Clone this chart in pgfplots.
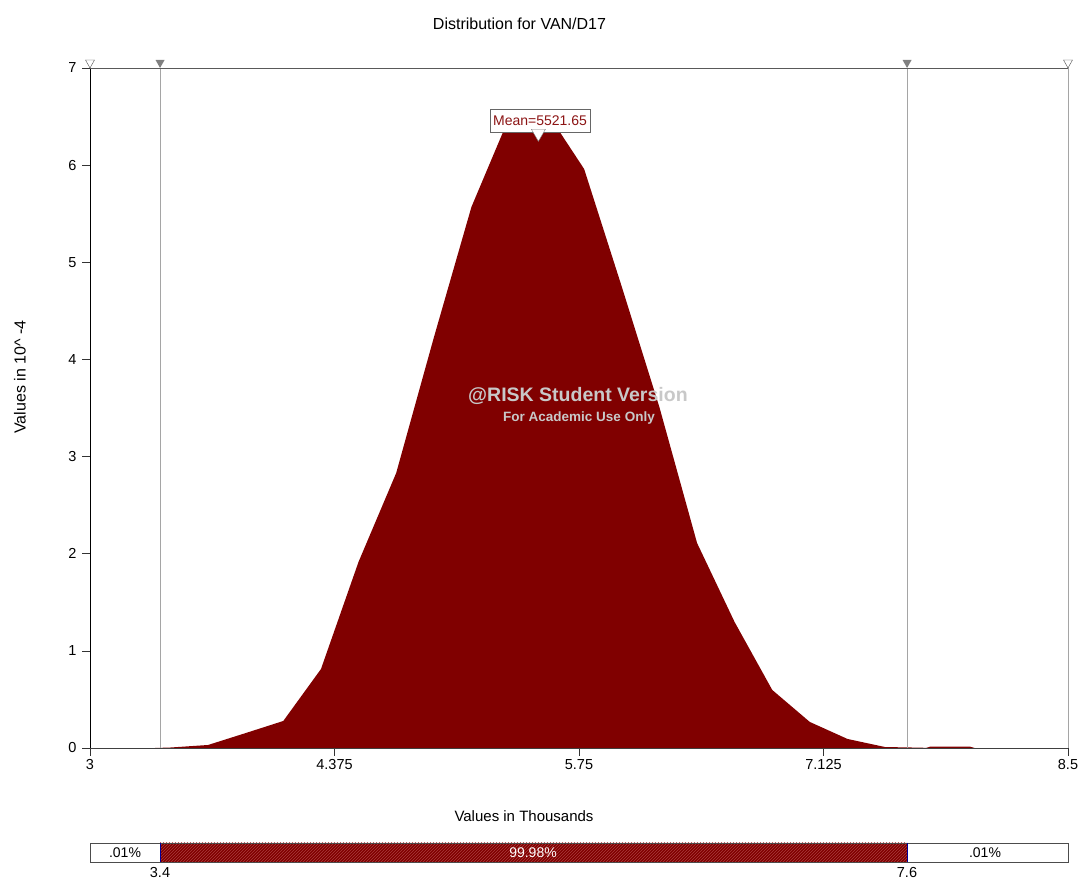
\documentclass[border=0pt]{standalone}
\usepackage{fontspec}
\setmainfont{Liberation Sans}
\usepackage{pgfplots}
\pgfplotsset{compat=1.18}
\usetikzlibrary{patterns}
\definecolor{riskred}{RGB}{128,0,0}
\definecolor{meanred}{RGB}{140,20,20}
\definecolor{hatchred}{RGB}{170,60,60}
\definecolor{wm}{RGB}{200,200,200}
\definecolor{delim}{RGB}{165,165,165}
\begin{document}
\begin{tikzpicture}[x=1pt,y=1pt]
\useasboundingbox (0,0) rectangle (1080,880);
\begin{axis}[
  at={(90pt,132pt)}, anchor=south west,
  width=978pt, height=680pt, scale only axis,
  xmin=3, xmax=8.5, ymin=0, ymax=7,
  axis x line*=bottom, axis y line*=left,
  x axis line style={-, black!75},
  y axis line style={-, black},
  xtick={3,4.375,5.75,7.125,8.5},
  xticklabels={3,4.375,5.75,7.125,8.5},
  ytick={0,1,2,3,4,5,6,7},
  tick align=outside, major tick length=8pt,
  tick style={black!80, line width=0.6pt},
  /pgf/number format/assume math mode=true,
  tick label style={font=\fontsize{14.5}{16}\selectfont},
  yticklabel style={xshift=-2pt},
  clip=false,
]
\addplot[fill=riskred, draw=none] table {
3.366 0
3.453 0.005
3.664 0.031
3.876 0.154
4.087 0.278
4.299 0.813
4.510 1.915
4.722 2.831
4.933 4.221
5.145 5.569
5.356 6.485
5.568 6.547
5.779 5.960
5.991 4.746
6.202 3.510
6.414 2.110
6.625 1.297
6.837 0.597
7.048 0.268
7.260 0.093
7.471 0.010
7.683 0.003
7.700 0
7.724 0.013
7.950 0.013
7.975 0
} \closedcycle;
% delimiters
\draw[delim, line width=0.8pt] (axis cs:3.394,0) -- (axis cs:3.394,7);
\draw[delim, line width=0.8pt] (axis cs:7.595,0) -- (axis cs:7.595,7);
\draw[delim, line width=0.8pt] (axis cs:8.5,0) -- (axis cs:8.5,7);
\draw[black!65, line width=0.8pt] (axis cs:3,7) -- (axis cs:8.5,7);
\coordinate (d1) at (axis cs:3.394,7);
\coordinate (d2) at (axis cs:7.595,7);
\coordinate (e1) at (axis cs:3,7);
\coordinate (e2) at (axis cs:8.5,7);
\coordinate (mt) at (axis cs:5.5217,6.369);
% mean box
\node[draw=black!60, fill=white, minimum width=100pt, minimum height=23pt, inner sep=0pt,
  text=meanred, font=\fontsize{14}{16}\selectfont] at (axis cs:5.531,6.458) {Mean=5521.65};
% watermark
\node[text=wm, font=\bfseries\fontsize{19.5}{22}\selectfont] at (axis cs:5.744,3.624) {@RISK Student Version};
\node[text=wm, font=\bfseries\fontsize{13.5}{16}\selectfont] at (axis cs:5.75,3.397) {For Academic Use Only};
\end{axis}
% top markers
\fill[gray] (d1) ++(-4.5,8) -- ++(9,0) -- ++(-4.5,-8) -- cycle;
\fill[gray] (d2) ++(-4.5,8) -- ++(9,0) -- ++(-4.5,-8) -- cycle;
\draw[black!70, fill=white] (e1) ++(-4.5,8) -- ++(9,0) -- ++(-4.5,-8) -- cycle;
\draw[black!70, fill=white] (e2) ++(-4.5,8) -- ++(9,0) -- ++(-4.5,-8) -- cycle;
\draw[black!50, fill=white] (mt) ++(-7,0) -- ++(14,0) -- ++(-7,-12) -- cycle;
% titles
\node[font=\fontsize{16}{18}\selectfont] at (519.5,856) {Distribution for VAN/D17};
\node[font=\fontsize{16}{18}\selectfont, rotate=90] at (20,503) {Values in 10\^{} -4};
\node[font=\fontsize{15}{17}\selectfont] at (524,64) {Values in Thousands};
% bottom bar
\fill[white] (90,18) rectangle (160,37);
\fill[riskred] (160,18) rectangle (907,37);
\fill[pattern=north east lines, pattern color=hatchred] (160,18) rectangle (907,37);
\fill[white] (907,18) rectangle (1068,37);
\draw[black!70, line width=0.8pt] (90,18) rectangle (1068,37);
\draw[blue!60!black, line width=0.8pt] (160,18) -- (160,37);
\draw[blue!60!black, line width=0.8pt] (907,18) -- (907,37);
\node[font=\fontsize{14}{16}\selectfont] at (125,27.5) {.01\%};
\node[text=white, font=\fontsize{14}{16}\selectfont] at (533,27.5) {99.98\%};
\node[font=\fontsize{14}{16}\selectfont] at (985,27.5) {.01\%};
\node[font=\fontsize{14.5}{16}\selectfont] at (160,7.5) {3.4};
\node[font=\fontsize{14.5}{16}\selectfont] at (907,7.5) {7.6};
\end{tikzpicture}
\end{document}
